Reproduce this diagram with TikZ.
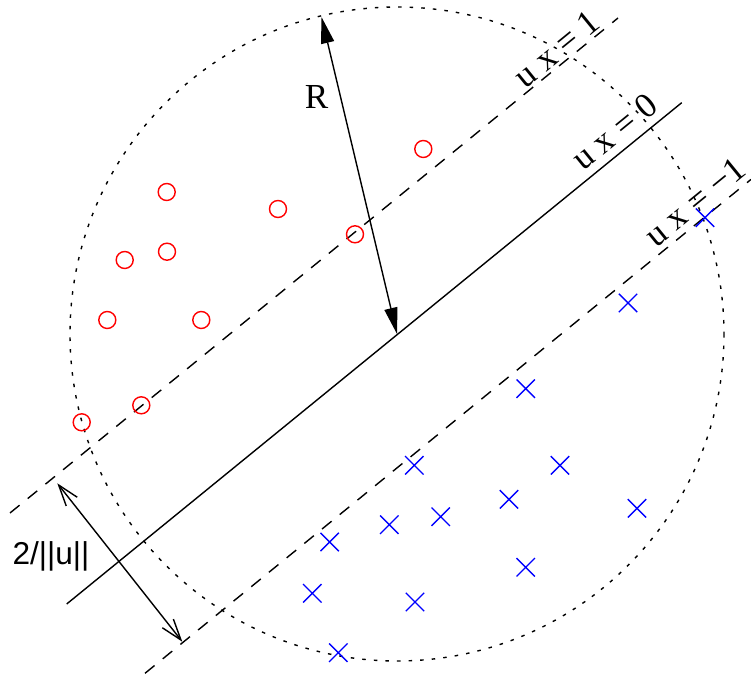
\documentclass[tikz,border=0pt]{standalone}
\usepackage{fontspec}
\setmainfont{Liberation Serif}
\setsansfont{Liberation Sans}
\usetikzlibrary{arrows.meta,shapes.misc}
\tikzset{
	redpt/.style={circle,draw=red,line width=0.8pt,minimum size=0.34cm,inner sep=0pt},
	bluept/.style={cross out,draw=blue,line width=0.8pt,minimum size=0.34cm,inner sep=0pt},
	marginline/.style={dash pattern=on 7pt off 6pt},
	ball/.style={dash pattern=on 2pt off 4.6pt},
	lbl/.style={font=\fontsize{20}{24}\selectfont,inner sep=0pt},
}
\begin{document}
\begin{tikzpicture}[x=0.02cm,y=-0.02cm,line width=0.8pt]
		\useasboundingbox (0,0) rectangle (751,675);
		\coordinate (C) at (397,334);
		\coordinate (Rtop) at (321.5,17);
		\coordinate (s1) at (66.7,604);
		\coordinate (s2) at (681.7,102.7);
		\coordinate (p1) at (10,513);
		\coordinate (p2) at (618,18);
		\coordinate (n1) at (145,673.3);
		\coordinate (n2) at (751,179.4);
		\coordinate (wa) at (57.3,483.3);
		\coordinate (wb) at (182.3,641.7);
		\draw[ball] (C) circle (327);
		\draw (s1) -- (s2);
		\draw[marginline] (p1) -- (p2);
		\draw[marginline] (n1) -- (n2);
		\foreach \p [count=\i] in {(166.7,192),(278,209),(355,234.3),(124.7,260),(167,251.7),(107.3,320),(201.3,320),(141.3,405.3),(81.7,422.3),(423.3,149)}
			\node[redpt] (r\i) at \p {};
		\foreach \p [count=\i] in {(525.7,388.7),(414.3,465.3),(560,465.3),(509,499.3),(637,508.3),(389.3,524.7),(440.7,516.7),(329.7,542),(312.3,593.3),(525.7,567.3),(415,602),(338.3,652.7),(628,303),(705,217.7)}
			\node[bluept] (b\i) at \p {};
		\draw[{Triangle[length=15pt,width=7.5pt]}-{Triangle[length=15pt,width=7.5pt]}] (Rtop) -- (C);
		\draw[{Straight Barb[length=12pt,width=8pt]}-{Straight Barb[length=12pt,width=8pt]}] (wa) -- (wb);
		\node[lbl] (R) at (316.7,96.7) {R};
		\node[lbl,font=\sffamily\fontsize{18}{22}\selectfont] (w) at (51,556) {2/||u||};
		\node[lbl,rotate=39.2] (h1) at (557,49) {u x = 1};
		\node[lbl,rotate=39.2] (h0) at (614.2,131.7) {u x = 0};
		\node[lbl,rotate=39.2] (h2) at (695,201.7) {u x = −1};
\end{tikzpicture}
\end{document}
